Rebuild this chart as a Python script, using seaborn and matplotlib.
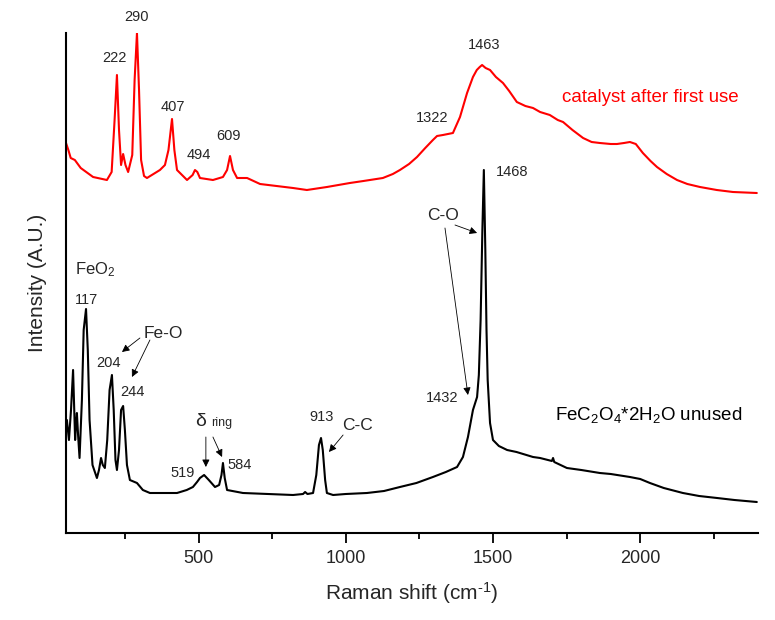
import numpy as np
import pandas as pd
import matplotlib
matplotlib.use("Agg")
import matplotlib.pyplot as plt
from matplotlib.ticker import MultipleLocator
import seaborn as sns

# Spectra (Raman shift in cm-1, intensity in arbitrary units)
used_shift = [50, 58, 66, 80, 100, 142, 189, 205, 215, 223, 230, 237, 244, 252, 261, 275,
              283, 291, 298, 305, 315, 325, 369, 386, 398, 410, 418, 427, 461, 480, 488, 496,
              505, 549, 583, 597, 607, 617, 631, 665, 709, 821, 868, 936, 1014, 1060, 1126,
              1160, 1184, 1215, 1242, 1270, 1296, 1310, 1330, 1364, 1388, 1412, 1432, 1445,
              1455, 1463, 1475, 1490, 1510, 1534, 1555, 1581, 1610, 1636, 1660, 1693, 1720,
              1738, 1770, 1806, 1835, 1863, 1900, 1921, 1945, 1965, 1985, 2009, 2035, 2057,
              2090, 2125, 2160, 2203, 2260, 2315, 2396]
used_int = [390, 383, 375, 373, 365, 356, 353, 361, 413, 458, 403, 368, 379, 368, 361, 378,
            453, 500, 443, 373, 357, 355, 363, 368, 383, 414, 383, 363, 353, 358, 363, 361,
            355, 353, 356, 363, 377, 363, 355, 355, 349, 345, 343, 346, 350, 352, 355,
            359, 363, 369, 376, 385, 393, 397, 398, 400, 416, 440, 456, 463,
            466, 468, 465, 463, 456, 450, 442, 431, 427, 425, 421, 418, 413,
            411, 403, 395, 391, 390, 389, 389, 390, 391, 389, 380, 372, 366,
            359, 353, 349, 346, 343, 341, 340]

unused_shift = [53, 60, 67, 74, 78, 81, 84, 87, 91, 96, 104, 110, 118, 124, 130, 140, 155,
                162, 169, 175, 182, 190, 198, 206, 212, 218, 223, 230, 237, 244, 250, 257,
                267, 291, 311, 335, 427, 460, 481, 495, 505, 519, 535, 556, 570, 578, 583,
                589, 597, 651, 821, 855, 862, 870, 889, 900, 909, 916, 922, 930, 936, 957,
                1000, 1072, 1130, 1184, 1240, 1296, 1340, 1378, 1398, 1415, 1432, 1446,
                1452, 1458, 1464, 1469, 1474, 1478, 1482, 1490, 1500, 1520, 1548, 1580,
                1636, 1660, 1700, 1704, 1708, 1751, 1800, 1863, 1900, 1965, 2000, 2033,
                2080, 2145, 2200, 2261, 2320, 2396]
unused_int = [113, 93, 123, 163, 123, 93, 108, 120, 98, 75, 133, 203, 224, 183, 113, 68, 55,
              63, 75, 68, 65, 93, 143, 158, 123, 73, 63, 83, 123, 127, 103, 68,
              53, 50, 43, 40, 40, 43, 46, 51, 55, 58, 53, 46, 48, 58, 70,
              55, 43, 40, 38, 39, 41, 39, 40, 58, 88, 95, 83, 53, 40, 38,
              39, 40, 42, 46, 50, 56, 61, 66, 76, 96, 123, 136,
              158, 213, 303, 363, 283, 203, 153, 110, 93, 87, 83, 81,
              76, 75, 72, 75, 71, 65, 63, 60, 59, 56, 54, 50,
              45, 40, 37, 35, 33, 31]

used = pd.DataFrame({"shift": used_shift, "intensity": used_int})
unused = pd.DataFrame({"shift": unused_shift, "intensity": unused_int})

# peak labels: (text, shift, intensity)
used_labels = [("222", 213, 475), ("290", 291, 516), ("407", 413, 426), ("494", 502, 378),
               ("609", 603, 397), ("1322", 1293, 415), ("1463", 1469, 488)]
unused_labels = [("117", 118, 233), ("204", 193, 170), ("244", 277, 141), ("519", 447, 60),
                 ("584", 641, 68), ("913", 919, 116), ("1432", 1327, 135), ("1468", 1564, 361)]

sns.set_style("ticks")
plt.rcParams["font.family"] = ["Liberation Sans", "DejaVu Sans"]
plt.rcParams["mathtext.default"] = "regular"

fig = plt.figure(figsize=(7.75, 6.2), dpi=100)
ax = fig.add_axes([66 / 775, 87 / 620, 692 / 775, 500 / 620])

sns.lineplot(data=used, x="shift", y="intensity", color="red", lw=1.5, ax=ax)
sns.lineplot(data=unused, x="shift", y="intensity", color="black", lw=1.5, ax=ax)

ax.set_xlim(50, 2400)
ax.set_ylim(0, 500)
ax.xaxis.set_major_locator(MultipleLocator(500))
ax.xaxis.set_minor_locator(MultipleLocator(250))
ax.set_yticks([])
ax.tick_params(axis="x", which="major", length=7, width=1.3, labelsize=13, pad=5,
               direction="out", color="black")
ax.tick_params(axis="x", which="minor", length=4, width=1.3, direction="out", color="black")
for s in ["top", "right"]:
    ax.spines[s].set_visible(False)
for s in ["left", "bottom"]:
    ax.spines[s].set_linewidth(1.5)
    ax.spines[s].set_color("black")

ax.set_xlabel("Raman shift (cm$^{\u2010 1}$)", fontsize=15, labelpad=10)
ax.set_ylabel("Intensity (A.U.)", fontsize=15, labelpad=14)

for txt, x, y in used_labels + unused_labels:
    ax.text(x, y, txt, fontsize=10.5, ha="center", va="center", clip_on=False)

ax.text(1734, 436, "catalyst after first use", color="red", fontsize=13.5, ha="left", va="center", clip_on=False)
ax.text(1710, 118, "FeC$_2$O$_4$*2H$_2$O unused", color="black", fontsize=13.5, ha="left", va="center", clip_on=False)
ax.text(81, 263, "FeO$_2$", fontsize=12, ha="left", va="center")
ax.text(379, 200, "Fe-O", fontsize=12.5, ha="center", va="center")
ax.text(508, 111, "δ", fontsize=14, ha="center", va="center")
ax.text(580, 110, "ring", fontsize=9, ha="center", va="center")
ax.text(1041, 107, "C-C", fontsize=12.5, ha="center", va="center")
ax.text(1330, 317, "C-O", fontsize=12.5, ha="center", va="center")

arrows = [((301, 195), (240, 181)), ((335, 193), (274, 156)),
          ((525, 96), (525, 66)), ((549, 96), (580, 76)),
          ((991, 98), (943, 81)),
          ((1371, 308), (1446, 300)), ((1337, 305), (1415, 138))]
for start, end in arrows:
    ax.annotate("", xy=end, xytext=start,
                arrowprops=dict(arrowstyle="-|>", color="black", lw=0.6, mutation_scale=11,
                                shrinkA=0, shrinkB=0))

fig.savefig("out.png", dpi=100)
